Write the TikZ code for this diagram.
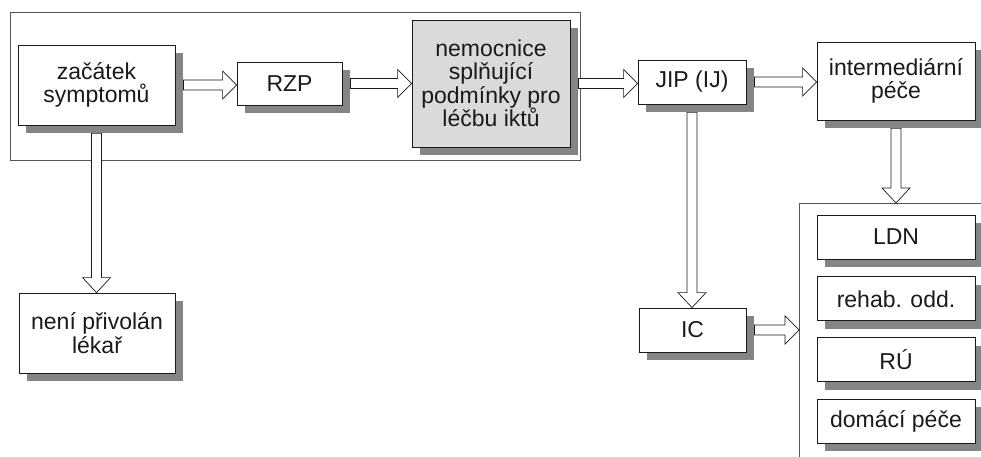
\documentclass[tikz,border=0pt]{standalone}
\usepackage{fontspec}
\setmainfont{Liberation Sans}
\usetikzlibrary{positioning,calc,shadows}
\definecolor{Ink}{HTML}{1A1A1A}
\definecolor{Frame}{HTML}{555555}
\definecolor{Shade}{HTML}{858585}
\definecolor{Fog}{HTML}{DADADA}
\tikzset{
  box/.style={draw=Ink,fill=white,line width=0.8pt,align=center,font=\fontsize{23}{23.5}\selectfont,text=Ink,inner sep=1pt,
    drop shadow={shadow xshift=8pt,shadow yshift=-8pt,fill=Shade,opacity=1}},
  grey/.style={box,fill=Fog},
  frame/.style={draw=Frame,line width=0.7pt},
  harr/.style={draw=Ink,fill=white,line width=0.7pt,
    to path={let \p1=(\tikztostart),\p2=(\tikztotarget) in
      (\x1,\y1+5pt) -- (\x2-14pt,\y1+5pt) -- (\x2-14pt,\y1+14pt) -- (\x2,\y1)
      -- (\x2-14pt,\y1-14pt) -- (\x2-14pt,\y1-5pt) -- (\x1,\y1-5pt) -- cycle}},
  varr/.style={draw=Ink,fill=white,line width=0.7pt,
    to path={let \p1=(\tikztostart),\p2=(\tikztotarget) in
      (\x1-5pt,\y1) -- (\x1-5pt,\y2+15pt) -- (\x1-14pt,\y2+15pt) -- (\x1,\y2)
      -- (\x1+14pt,\y2+15pt) -- (\x1+5pt,\y2+15pt) -- (\x1+5pt,\y1) -- cycle}}
}

\begin{document}
\begin{tikzpicture}[x=1pt,y=-1pt]
  \useasboundingbox (0,0) rectangle (981,457);
  \clip (0,0) rectangle (981,457);
  \fill[white] (0,0) rectangle (981,457);
  % frames
  \draw[frame] (10,12) rectangle (580,160);
  \coordinate (rest) at (799,203);
  \draw[frame] (rest) rectangle (1010,480);
  % nodes
  \node[box,minimum width=157pt,minimum height=80pt] (zac) at (96.5,85) {začátek\\symptomů};
  \node[box,minimum width=105pt,minimum height=43pt] (rzp) at (289.5,83.5) {RZP};
  \node[grey,minimum width=158pt,minimum height=127pt] (nem) at (491,83.5) {nemocnice\\splňující\\podmínky pro\\léčbu iktů};
  \node[box,minimum width=108pt,minimum height=44pt] (jip) at (692,82) {JIP (IJ)};
  \node[box,minimum width=158pt,minimum height=78pt] (inter) at (896,81) {intermediární\\péče};
  \node[box,minimum width=156pt,minimum height=80pt] (neni) at (97,333) {není přivolán\\lékař};
  \node[box,minimum width=107pt,minimum height=44pt] (ic) at (692.5,330) {IC};
  \node[box,minimum width=158pt,minimum height=44pt] (ldn) at (896,237) {LDN};
  \node[box,minimum width=158pt,minimum height=44pt,below=17pt of ldn] (rehab) {rehab. odd.};
  \node[box,minimum width=158pt,minimum height=44pt,below=16pt of rehab] (ru) {RÚ};
  \node[box,minimum width=158pt,minimum height=44pt,below=17pt of ru] (dom) {domácí péče};
  % arrows
  \draw[harr] ($(zac.east)+(8,0)$) to (rzp.west);
  \draw[harr] ($(rzp.east)+(8,0)$) to (nem.west);
  \draw[harr] ($(nem.east)+(8,0)$) to (jip.west);
  \draw[harr] ($(jip.east)+(8,0)$) to (inter.west);
  \draw[harr] ($(ic.east)+(8,0)$) to (rest);
  \draw[varr] ($(zac.south)+(0,8)$) to (neni.north);
  \draw[varr] ($(jip.south)+(0,8)$) to (ic.north);
  \draw[varr] ($(inter.south)+(0,8)$) to (rest);
\end{tikzpicture}
\end{document}
